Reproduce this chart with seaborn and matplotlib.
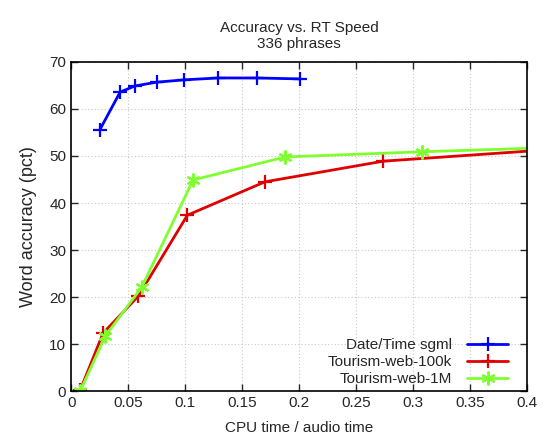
import numpy as np
import pandas as pd
import matplotlib
matplotlib.use("Agg")
import matplotlib.pyplot as plt
from matplotlib.lines import Line2D
import seaborn as sns

# values
date_time_x = [0.025, 0.043, 0.056, 0.075, 0.099, 0.129, 0.163, 0.201]
date_time_y = [55.5, 63.6, 64.9, 65.7, 66.2, 66.6, 66.6, 66.4]

web100k_x = [0.008, 0.028, 0.059, 0.102, 0.170, 0.274, 0.50]
web100k_y = [0.2, 12.3, 20.2, 37.4, 44.5, 48.9, 52.7]

web1m_x = [0.008, 0.030, 0.062, 0.107, 0.188, 0.308, 0.50]
web1m_y = [0.0, 11.7, 22.1, 44.9, 49.8, 50.9, 52.4]

series_names = ["Date/Time sgml", "Tourism-web-100k", "Tourism-web-1M"]
series_colors = ["#0000ff", "#e00000", "#80ff30"]
series_markers = ["+", "+", (6, 2, 0)]

frames = []
for name, xs, ys in zip(series_names,
                        [date_time_x, web100k_x, web1m_x],
                        [date_time_y, web100k_y, web1m_y]):
    frames.append(pd.DataFrame({"cpu": xs, "acc": ys, "series": name}))
df = pd.concat(frames, ignore_index=True)

sns.set_style("ticks")
plt.rcParams["font.family"] = ["Liberation Sans", "DejaVu Sans"]

fig = plt.figure(figsize=(5.43, 4.45), dpi=100)
ax = fig.add_axes([0.131, 0.1213, 0.8395, 0.7394])

handles = []
for name, color, marker in zip(series_names, series_colors, series_markers):
    style = dict(color=color, marker=marker, markersize=10,
                 markeredgewidth=1.6, markeredgecolor=color, linewidth=2)
    sns.lineplot(
        data=df[df["series"] == name],
        x="cpu",
        y="acc",
        ax=ax,
        sort=False,
        legend=False,
        **style,
    )
    handles.append(Line2D([], [], label=name, **style))

ax.set_xlim(0, 0.4)
ax.set_ylim(0, 70)
ax.set_xticks(np.arange(0, 0.41, 0.05))
ax.set_xticklabels(["0", "0.05", "0.1", "0.15", "0.2", "0.25", "0.3", "0.35", "0.4"])
ax.set_yticks(np.arange(0, 71, 10))
ax.grid(True, color="#c8c8c8", linestyle=(0, (1, 2)), linewidth=0.8)
ax.tick_params(direction="in", top=True, right=True, length=5, labelsize=11, width=1)
for sp in ax.spines.values():
    sp.set_color("black")
    sp.set_linewidth(1.2)

ax.set_xlabel("CPU time / audio time", fontsize=11, labelpad=8)
ax.set_ylabel("Word accuracy (pct)", fontsize=13, labelpad=9)
ax.set_title("Accuracy vs. RT Speed\n336 phrases", fontsize=11, pad=10)

ax.legend(handles=handles, loc="lower right", bbox_to_anchor=(0.9825, -0.018),
          frameon=False, markerfirst=False, fontsize=11, handlelength=2.7,
          handletextpad=1.0, borderaxespad=0.3, labelspacing=0.2, numpoints=1)

fig.savefig("out.png", dpi=100)
